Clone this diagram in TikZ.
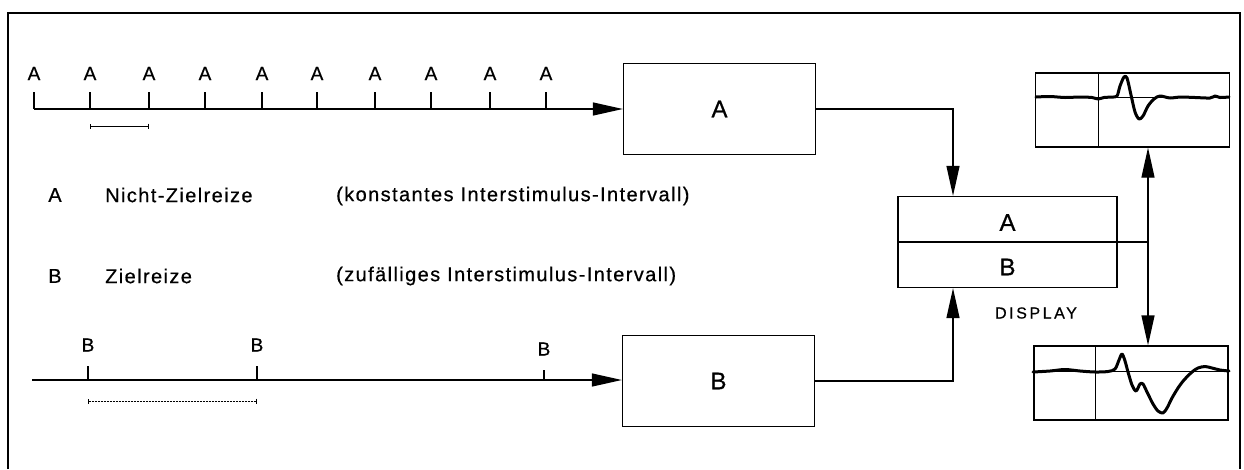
\documentclass[tikz,border=0pt]{standalone}
\usepackage{fontspec}
\setmainfont{Liberation Sans}[FakeBold=0.6]
\newfontfamily\legendfamily{Liberation Sans}[LetterSpace=7,FakeBold=0.6]
\newfontfamily\dispfamily{Liberation Sans}[LetterSpace=16,FakeBold=0.6]
\newcommand\legendfont{\legendfamily\fontsize{20}{24}\selectfont}
\newcommand\dispfont{\dispfamily\fontsize{16}{19}\selectfont}
\newcommand\tickfont{\fontsize{19}{22}\selectfont}
\newcommand\boxfont{\fontsize{24}{28}\selectfont}
\usetikzlibrary{arrows.meta}

\tikzset{
  conn/.style={line width=1.3pt},
  flow/.style={line width=1.3pt,-{Triangle[length=30pt,width=13pt]}},
  stimbox/.style={draw,line width=1.3pt,inner sep=0pt,minimum width=192pt,minimum height=91pt,font=\boxfont},
  dispbox/.style={draw,line width=1.3pt,inner sep=0pt,minimum width=219pt,minimum height=91pt},
  scopebox/.style={draw,line width=1.3pt,inner sep=0pt,minimum width=194pt,minimum height=74pt},
  ticklabel/.style={font=\tickfont,inner sep=0pt},
  legend/.style={font=\legendfont,anchor=west,inner sep=0pt},
  wave/.style={line width=3pt,line join=round,line cap=round},
  hair/.style={line width=0.9pt},
  scalebar/.style={line width=0.9pt,{Bar[width=5pt]}-{Bar[width=5pt]}},
}

\begin{document}
\begin{tikzpicture}[x=1pt,y=-1pt]
\useasboundingbox (0,0) rectangle (1244,469);

% outer frame (open at the bottom)
\draw[conn] (8,469) -- (8,13) -- (1240,13) -- (1240,469);

% ---------- boxes ----------
\node[stimbox] (boxA) at (719.5,109) {A};
\node[stimbox] (boxB) at (718.5,381) {B};
\node[dispbox] (disp) at (1007.5,242) {};
\node[ticklabel,font=\boxfont] (dispA) at (1007.5,222.5) {A};
\node[ticklabel,font=\boxfont] (dispB) at (1007.5,267) {B};
\node[font=\dispfont,inner sep=0pt] (displab) at (1036,313) {DISPLAY};

% ---------- constant-interval stimulus train A ----------
\coordinate (tA0) at (34,109);
\draw[conn] (34,92) -- (tA0);
\draw[flow] (tA0) -- (tA0 -| boxA.west);
\foreach \x [count=\i] in {34,90,149,205,262,317,375,431,490,546}{
  \node[ticklabel] (la\i) at (\x,73.5) {A};
  \draw[conn] (\x,92) -- (\x,109);
}
\coordinate (sa1) at (90,126);
\coordinate (sa2) at (149,126);
\draw[scalebar] (sa1) -- (sa2);

% ---------- legend ----------
\node[ticklabel,font=\legendfont] (legA) at (55,195) {A};
\node[legend] (legAname) at (105,195) {Nicht-Zielreize};
\node[legend] (legAnote) at (336,196) {(konstantes Interstimulus-Intervall)};
\node[ticklabel,font=\legendfont] (legB) at (55,276) {B};
\node[legend] (legBname) at (105,276) {Zielreize};
\node[legend] (legBnote) at (336,276) {(zufälliges Interstimulus-Intervall)};

% ---------- random-interval stimulus train B ----------
\coordinate (tB0) at (32,380);
\draw[flow] (tB0) -- (tB0 -| boxB.west);
\node[ticklabel] (lb1) at (88,345) {B};
\node[ticklabel] (lb2) at (257,345) {B};
\node[ticklabel] (lb3) at (544,349) {B};
\draw[conn] (88,366) -- (88,380);
\draw[conn] (257,366) -- (257,380);
\draw[conn] (544,370) -- (544,380);
\coordinate (sb1) at (88,401);
\coordinate (sb2) at (257,401);
\draw[scalebar,dash pattern=on 2pt off 1pt] (sb1) -- (sb2);

% ---------- connectors to the display ----------
\coordinate (jA) at (953,0);
\draw[flow] (boxA.east) -| (jA |- disp.north);
\draw[flow] (boxB.east) -| (jA |- disp.south);
\coordinate (split) at (1148,242);
\draw[conn] (disp.west |- split) -- (split);

% ---------- averaged waveforms ----------
\node[scopebox] (scA) at (1132.5,110) {};
\node[scopebox] (scB) at (1131,383) {};
\draw[flow] (split) -- (split |- scA.south);
\draw[flow] (split) -- (split |- scB.north);

\draw[hair] (1098,73) -- (1098,147);
\draw[hair] (scA.west |- 0,97) -- (scA.east |- 0,97);
\draw[wave] plot[smooth,tension=0.5] coordinates {
  (1036,97) (1050,96.5) (1065,97.5) (1080,97) (1092,97.5) (1098,99) (1104,97.5)
  (1112,97) (1117,96) (1120,86) (1124,77) (1127,78) (1131,95) (1135,112)
  (1139,119) (1143,116) (1148,106) (1154,99) (1160,96) (1170,98) (1180,97)
  (1195,97.5) (1210,98) (1215,96) (1220,97.5) (1229,97)};

\draw[hair] (1095,346) -- (1095,420);
\draw[hair] (scB.west |- 0,371) -- (scB.east |- 0,371);
\draw[wave] plot[smooth,tension=0.5] coordinates {
  (1033,372) (1050,371) (1065,369.5) (1080,371) (1095,372) (1108,371.5)
  (1115,369) (1119,360) (1122,354) (1125,361) (1128,372) (1132,385) (1136,391)
  (1140,384) (1143,384) (1147,392) (1153,404) (1158,411) (1163,413) (1167,408)
  (1172,398) (1178,388) (1184,380) (1192,372) (1198,368) (1205,366.5)
  (1212,368) (1220,370) (1229,371)};
\end{tikzpicture}
\end{document}
